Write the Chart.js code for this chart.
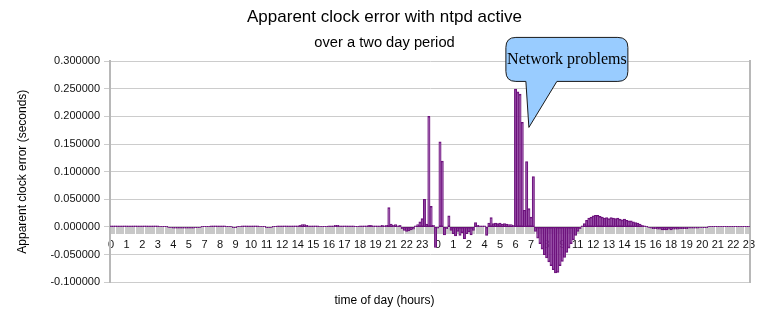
<!DOCTYPE html>
<html>
<head>
<meta charset="utf-8">
<title>Apparent clock error with ntpd active</title>
<script src="https://cdn.jsdelivr.net/npm/chart.js@4.4.1/dist/chart.umd.min.js"></script>
<style>
  html, body { margin: 0; padding: 0; background: #fff; }
  #wrap { width: 769px; height: 317px; }
</style>
</head>
<body>
<div id="wrap"><canvas id="chart" width="769" height="317"></canvas></div>
<script>
// one sample every 10 minutes over two days (288 samples), a label on every 7th
const sampleMinutes = 10;
const labelEvery = 7;
const tickLabels = [0, 1, 2, 3, 4, 5, 7, 8, 9, 10, 11, 12, 14, 15, 16, 17, 18, 19, 21, 22, 23,
                    0, 1, 2, 4, 5, 6, 7, 8, 9, 11, 12, 13, 14, 15, 16, 18, 19, 20, 21, 22, 23];

// apparent clock error in seconds, one row per hour
const clockError = [
  // day 1
  0.002, 0.002, 0.002, 0.002, 0.002, 0.002,
  0.002, 0.002, 0.002, 0.002, 0.002, 0.002,
  0.002, 0.002, 0.002, 0.002, 0.002, 0.002,
  0.002, 0.002, 0.002, 0.002, 0.001, 0.001,
  0.001, 0.001, -0.001, -0.001, -0.002, -0.002,
  -0.002, -0.002, -0.002, -0.002, -0.002, -0.002,
  -0.002, -0.002, -0.001, -0.001, -0.001, 0.001,
  0.001, 0.001, 0.001, 0.002, 0.002, 0.002,
  0.002, 0.002, 0.002, 0.002, 0.001, 0.001,
  0.001, -0.001, -0.001, 0.001, 0.001, 0.002,
  0.002, 0.002, 0.002, 0.002, 0.002, 0.002,
  0.002, 0.001, 0.001, 0.001, -0.001, -0.001,
  -0.001, 0.001, 0.001, 0.002, 0.002, 0.002,
  0.002, 0.002, 0.002, 0.002, 0.002, 0.002,
  0.002, 0.003, 0.004, 0.004, 0.003, 0.002,
  0.002, 0.002, 0.002, 0.002, 0.001, 0.001,
  0.001, 0.001, 0.002, 0.002, 0.002, 0.003,
  0.003, 0.002, 0.002, 0.002, 0.002, 0.002,
  0.002, 0.002, 0.001, 0.001, 0.002, 0.002,
  0.002, 0.002, 0.003, 0.003, 0.002, 0.002,
  0.002, 0.002, 0.003, 0.002, 0.003, 0.035,
  0.005, 0.003, 0.004, 0.002, 0.003, -0.003,
  -0.006, -0.008, -0.007, -0.005, -0.004, 0.002,
  0.004, 0.009, 0.015, 0.050, 0.005, 0.200,
  // day 2
  0.037, 0.003, -0.037, -0.002, 0.154, 0.119,
  -0.014, -0.003, 0.020, -0.006, -0.012, -0.016,
  -0.008, -0.015, -0.010, -0.021, -0.012, -0.009,
  -0.014, -0.006, 0.008, 0.003, 0.002, 0.002,
  0.002, -0.015, 0.007, 0.017, 0.006, 0.007,
  0.006, 0.007, 0.005, 0.006, 0.005, 0.004,
  0.004, 0.003, 0.249, 0.244, 0.240, 0.189,
  0.030, 0.118, 0.033, 0.018, 0.091, -0.008,
  -0.020, -0.030, -0.040, -0.050, -0.056, -0.063,
  -0.070, -0.077, -0.083, -0.082, -0.070, -0.062,
  -0.055, -0.046, -0.038, -0.030, -0.023, -0.015,
  -0.008, -0.003, 0.002, 0.006, 0.012, 0.016,
  0.018, 0.020, 0.021, 0.021, 0.019, 0.018,
  0.016, 0.017, 0.015, 0.017, 0.016, 0.015,
  0.016, 0.014, 0.013, 0.014, 0.012, 0.011,
  0.011, 0.009, 0.008, 0.007, 0.005, 0.003,
  0.002, 0.001, -0.001, -0.002, -0.003, -0.003,
  -0.004, -0.004, -0.005, -0.005, -0.005, -0.004,
  -0.005, -0.004, -0.004, -0.004, -0.003, -0.003,
  -0.003, -0.003, -0.002, -0.002, -0.002, -0.002,
  -0.002, -0.001, -0.001, -0.001, -0.001, 0.001,
  0.001, 0.001, 0.001, 0.001, 0.001, 0.001,
  0.001, 0.001, 0.001, 0.001, 0.001, 0.001,
  0.001, 0.001, 0.001, 0.001, 0.001, 0.001
];

const categories = clockError.map((_, i) => {
  const m = (i * sampleMinutes) % 1440;
  return String(Math.floor(m / 60)).padStart(2, "0") + ":" + String(m % 60).padStart(2, "0");
});

const sans = "'Liberation Sans', Arial, sans-serif";
const gridGrey = "#cccccc";

// speech bubble pointing at the network trouble
const calloutText = "Network problems";
const calloutAt = { index: 188, value: 0.18 };

const calloutPlugin = {
  id: "callout",
  afterDraw(chart) {
    const { ctx, scales } = chart;
    const tx = scales.x.getPixelForValue(calloutAt.index);
    const ty = scales.y.getPixelForValue(calloutAt.value);
    const l = tx - 23, r = tx + 99, t = ty - 90, b = ty - 46, rad = 10;
    ctx.save();
    ctx.beginPath();
    ctx.moveTo(l + rad, t);
    ctx.lineTo(r - rad, t);
    ctx.quadraticCurveTo(r, t, r, t + rad);
    ctx.lineTo(r, b - rad);
    ctx.quadraticCurveTo(r, b, r - rad, b);
    ctx.lineTo(tx + 28, b);
    ctx.lineTo(tx, ty);
    ctx.lineTo(tx - 3, b);
    ctx.lineTo(l + rad, b);
    ctx.quadraticCurveTo(l, b, l, b - rad);
    ctx.lineTo(l, t + rad);
    ctx.quadraticCurveTo(l, t, l + rad, t);
    ctx.closePath();
    ctx.fillStyle = "#99ccff";
    ctx.fill();
    ctx.strokeStyle = "#1a1a1a";
    ctx.lineWidth = 1;
    ctx.stroke();
    ctx.fillStyle = "#000";
    ctx.font = "16px 'Liberation Serif', 'Times New Roman', serif";
    ctx.textAlign = "center";
    ctx.textBaseline = "alphabetic";
    ctx.fillText(calloutText, (l + r) / 2, ty - 63);
    ctx.restore();
  }
};

new Chart(document.getElementById("chart"), {
  type: "bar",
  data: {
    labels: categories,
    datasets: [{
      data: clockError,
      backgroundColor: "#8c3d9e",
      borderColor: "#6b0f7a",
      borderWidth: 1,
      borderSkipped: false,
      inflateAmount: 0.4,
      barPercentage: 1,
      categoryPercentage: 1
    }]
  },
  options: {
    responsive: false,
    animation: false,
    layout: { padding: 0 },
    plugins: {
      legend: { display: false },
      tooltip: { enabled: false },
      title: {
        display: true,
        text: "Apparent clock error with ntpd active",
        color: "#000",
        font: { family: sans, size: 17, weight: "normal" },
        padding: { top: 6.8, bottom: 7 }
      },
      subtitle: {
        display: true,
        text: "over a two day period",
        color: "#000",
        font: { family: sans, size: 14.7 },
        padding: { top: 0, bottom: 9.2 }
      }
    },
    scales: {
      x: {
        position: { y: 0 },
        offset: true,
        border: { display: false },
        grid: { drawOnChartArea: false, drawTicks: true, tickLength: 7, color: "#c8c8c8", lineWidth: 2, offset: true },
        ticks: {
          autoSkip: false,
          maxRotation: 0,
          minRotation: 0,
          padding: 4,
          color: "#111",
          font: { family: sans, size: 11 },
          callback: (v, i) => (i % labelEvery === 0 ? String(tickLabels[i / labelEvery]) : "")
        },
        afterFit: (s) => { s.height = 0; }
      },
      xt: {
        type: "linear",
        position: "bottom",
        fullSize: true,
        ticks: { display: false },
        grid: { display: false, drawTicks: false },
        border: { display: false },
        title: {
          display: true,
          text: "time of day (hours)",
          color: "#000",
          font: { family: sans, size: 12 },
          padding: { top: 10.9, bottom: 9.4 }
        }
      },
      y: {
        min: -0.1,
        max: 0.3,
        ticks: {
          stepSize: 0.05,
          padding: 4,
          color: "#111",
          font: { family: sans, size: 11 },
          callback: (v) => (Math.abs(v) < 1e-9 ? 0 : v).toFixed(6)
        },
        grid: { color: gridGrey, lineWidth: 1, tickLength: 6 },
        border: { color: "#b8b8b8", width: 2 },
        title: {
          display: true,
          text: "Apparent clock error (seconds)",
          color: "#000",
          font: { family: sans, size: 12 },
          padding: { top: 15, bottom: 0 }
        },
        afterFit: (s) => { s.width = 110; }
      },
      yr: {
        position: "right",
        min: -0.1,
        max: 0.3,
        ticks: { display: false },
        grid: { display: false, drawTicks: false },
        border: { color: "#b8b8b8", width: 2 },
        afterFit: (s) => { s.width = 19; }
      }
    }
  },
  plugins: [calloutPlugin]
});
</script>
</body>
</html>
